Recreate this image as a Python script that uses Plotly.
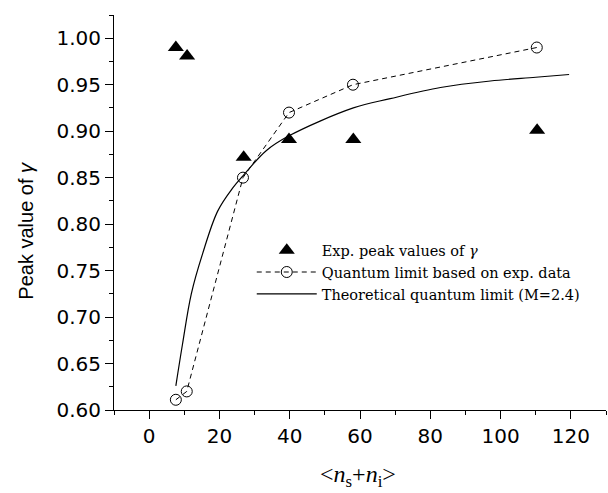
import plotly.graph_objects as go

# Experimental peak values (triangles)
exp_x = [7.6, 10.8, 26.9, 39.8, 58.1, 110.4]
exp_y = [0.99, 0.981, 0.872, 0.891, 0.891, 0.901]

# Quantum limit based on exp. data (open circles, dashed)
ql_x = [7.6, 10.7, 26.7, 39.8, 58.0, 110.3]
ql_y = [0.611, 0.620, 0.850, 0.920, 0.950, 0.990]

# Theoretical quantum limit (M=2.4)
th_x = [7.6, 9.5, 12.0, 15.2, 19.5, 23.8, 26.7, 33.3, 39.8, 58.1, 68.6, 82.9, 97.1, 110.0, 119.5]
th_y = [0.626, 0.671, 0.725, 0.768, 0.814, 0.839, 0.852, 0.879, 0.895, 0.925, 0.935, 0.947, 0.954, 0.958, 0.961]

x_ticks = [0, 20, 40, 60, 80, 100, 120]
y_ticks = [0.60, 0.65, 0.70, 0.75, 0.80, 0.85, 0.90, 0.95, 1.00]

SANS = "Liberation Sans, Arial, sans-serif"
WIDE_SANS = "DejaVu Sans, Verdana, sans-serif"
SERIF = "Liberation Serif, Times New Roman, serif"
WIDE_SERIF = "DejaVu Serif, serif"

fig = go.Figure()
fig.add_trace(go.Scatter(
    x=exp_x, y=exp_y, mode="markers", name="Exp. peak values of <i>γ</i>",
    marker=dict(symbol="triangle-up", size=14, color="black"),
))
fig.add_trace(go.Scatter(
    x=ql_x, y=ql_y, mode="lines+markers", name="Quantum limit based on exp. data",
    line=dict(color="black", width=1, dash="5px,4px"),
    marker=dict(symbol="circle-open", size=11, color="black", line=dict(width=1)),
))
fig.add_trace(go.Scatter(
    x=th_x, y=th_y, mode="lines", name="Theoretical quantum limit (M=2.4)",
    line=dict(color="black", width=1.2, shape="spline"),
))

fig.update_layout(
    width=608, height=493,
    margin=dict(l=114, r=2, t=15, b=83),
    paper_bgcolor="white", plot_bgcolor="white",
    showlegend=True,
    legend=dict(
        x=0.28, y=0.445, xanchor="left", yanchor="top",
        font=dict(family=WIDE_SERIF, size=14.5, color="black"),
        bgcolor="rgba(0,0,0,0)", itemwidth=60, tracegroupgap=0,
    ),
    xaxis=dict(
        range=[-10, 130], tickvals=x_ticks, showline=True, linecolor="black", linewidth=1,
        ticks="outside", ticklen=8, tickcolor="black", showgrid=False, zeroline=False,
        tickfont=dict(family=WIDE_SANS, size=20, color="black"),
        minor=dict(dtick=10, tick0=0, ticks="outside", ticklen=4, tickcolor="black", showgrid=False),
    ),
    yaxis=dict(
        range=[0.6, 1.025], tickvals=y_ticks, tickformat=".2f", showline=True, linecolor="black", linewidth=1,
        ticks="outside", ticklen=8, tickcolor="black", showgrid=False, zeroline=False,
        tickfont=dict(family=WIDE_SANS, size=20, color="black"),
        minor=dict(dtick=0.025, tick0=0.6, ticks="outside", ticklen=4, tickcolor="black", showgrid=False),
    ),
    annotations=[
        dict(text="Peak value of <i>γ</i>", xref="paper", yref="paper", x=-0.178, y=0.455,
             textangle=-90, showarrow=False, xanchor="center", yanchor="middle",
             font=dict(family=SANS, size=20, color="black")),
        dict(text="&lt;<i>n</i><sub>s</sub>+<i>n</i><sub>i</sub>&gt;", xref="paper", yref="paper",
             x=0.496, y=-0.168, showarrow=False, xanchor="center", yanchor="middle",
             font=dict(family=SERIF, size=24, color="black")),
    ],
)

fig.write_html("out.html", config={"displayModeBar": False},
               post_script="document.body.style.margin='0px';")
